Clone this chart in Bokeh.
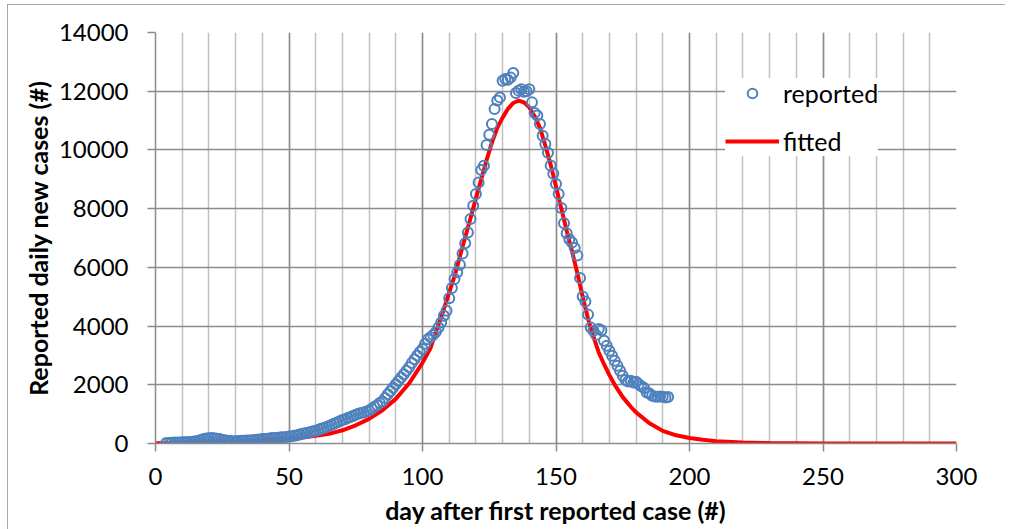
from bokeh.plotting import figure
from bokeh.models import (Range1d, SingleIntervalTicker, Legend, LegendItem)
from bokeh.embed import file_html
from bokeh.resources import INLINE

# ---------------- data ----------------
reported_day = list(range(4, 193))
reported_cases = [
    20, 20, 25, 30, 30, 35, 40, 45, 50, 55,            # 4-13
    60, 75, 90, 120, 150, 170, 180, 185, 175, 165,      # 14-23
    150, 130, 110, 95, 85, 80, 80, 85, 90, 95,          # 24-33
    100, 105, 110, 120, 130, 140, 150, 155, 165, 175,   # 34-43
    185, 190, 200, 210, 215, 225, 235, 250, 265, 285,   # 44-53
    310, 330, 350, 370, 395, 415, 435, 470, 500, 530,   # 54-63
    565, 600, 640, 680, 715, 760, 800, 830, 870, 900,   # 64-73
    940, 980, 1010, 1040, 1060, 1090, 1120, 1180, 1250, 1300,  # 74-83
    1380, 1430, 1550, 1680, 1790, 1900, 2020, 2130, 2250, 2360,  # 84-93
    2480, 2600, 2740, 2870, 3000, 3120, 3220, 3400, 3550, 3620,  # 94-103
    3700, 3800, 3950, 4120, 4350, 4520, 4950, 5300, 5600, 5830,  # 104-113
    6090, 6470, 6820, 7190, 7650, 8100, 8500, 8890, 9320, 9460,  # 114-123
    10170, 10520, 10880, 11390, 11680, 11790, 12360, 12420, 12390, 12470,  # 124-133
    12620, 11940, 12020, 12070, 11980, 12000, 12070, 11620, 11260, 11170,  # 134-143
    10880, 10480, 10200, 9900, 9470, 9190, 8840, 8500, 8020, 7500,  # 144-153
    7160, 6960, 6850, 6660, 6400, 5640, 5010, 4840, 4390, 3950,  # 154-163
    3840, 3700, 3900, 3860, 3500, 3330, 3160, 2990, 2820, 2650,  # 164-173
    2480, 2310, 2160, 2110, 2140, 2080, 2100, 2020, 1950, 1890,  # 174-183
    1740, 1700, 1630, 1600, 1590, 1600, 1590, 1570, 1580,        # 184-192
]
assert len(reported_day) == len(reported_cases)

fitted_day = [0, 10, 20, 30, 40, 50, 55, 60, 65, 70, 75, 80, 85, 90, 95, 100,
              103, 105, 107, 110, 112, 115, 118, 120, 122, 124, 126, 128, 130,
              132, 134, 136, 138, 140, 142, 144, 146, 148, 150, 152, 154, 156,
              158, 160, 162, 164, 166, 168, 170, 172, 175, 178, 180, 185, 190,
              195, 200, 205, 210, 220, 230, 250, 275, 300]
fitted_cases = [10, 20, 40, 70, 110, 170, 200, 260, 330, 450, 620, 840, 1130,
                1520, 2050, 2750, 3250, 3800, 4300, 5150, 5700, 6700, 7680,
                8350, 9000, 9650, 10250, 10750, 11100, 11400, 11600, 11680,
                11620, 11450, 11150, 10750, 10150, 9500, 8750, 8000, 7250,
                6550, 5800, 5000, 4250, 3650, 3100, 2700, 2330, 2000, 1580,
                1250, 1060, 690, 430, 280, 190, 130, 80, 35, 15, 3, 1, 0]

x_title = "day after first reported case (#)"
y_title = "Reported daily new cases (#)"

FONT = "Lato"
MAJOR = "#8c8c8c"
MINOR = "#c0c0c0"

p = figure(width=998, height=525, output_backend="svg", toolbar_location=None,
           x_range=Range1d(0, 300), y_range=Range1d(0, 14000),
           min_border_left=148, min_border_right=49, min_border_top=28,
           min_border_bottom=86)
p.outline_line_color = None
p.background_fill_color = "white"
p.border_fill_color = "white"
p.styles = {"margin-left": "7px", "margin-top": "4px",
            "outline": "1px solid #8c8c8c", "outline-offset": "-1px"}

p.xaxis.ticker = SingleIntervalTicker(interval=50, num_minor_ticks=5)
p.yaxis.ticker = SingleIntervalTicker(interval=2000, num_minor_ticks=0)

p.xgrid.grid_line_color = MAJOR
p.xgrid.grid_line_width = 1.5
p.xgrid.minor_grid_line_color = MINOR
p.xgrid.minor_grid_line_width = 1.5
p.ygrid.grid_line_color = MAJOR
p.ygrid.grid_line_width = 1.5

for ax in (p.xaxis[0], p.yaxis[0]):
    ax.axis_line_color = MAJOR
    ax.axis_line_width = 1.5
    ax.major_tick_line_color = MAJOR
    ax.major_tick_line_width = 1.5
    ax.major_tick_out = 8
    ax.major_tick_in = 0
    ax.minor_tick_line_color = None
    ax.major_label_text_font = FONT
    ax.major_label_text_font_size = "24px"
    ax.major_label_text_color = "black"
    ax.axis_label_text_font = FONT
    ax.axis_label_text_font_size = "25px"
    ax.axis_label_text_font_style = "bold"
    ax.axis_label_text_color = "black"

p.xaxis.axis_label = x_title
p.yaxis.axis_label = y_title
p.xaxis.major_label_standoff = 16
p.yaxis.major_label_standoff = 19
p.xaxis.axis_label_standoff = 7
p.yaxis.axis_label_standoff = 3

line_r = p.line(fitted_day, fitted_cases, line_color="#ff0000", line_width=4)
sc_r = p.scatter(reported_day, reported_cases, marker="circle", size=10,
                 line_color="#4f81bd", line_width=2, fill_color=None)

legend = Legend(items=[LegendItem(label="reported", renderers=[sc_r]),
                       LegendItem(label="fitted", renderers=[line_r])],
                location=(570, 287))
legend.background_fill_color = "white"
legend.background_fill_alpha = 1
legend.border_line_color = None
legend.label_text_font = FONT
legend.label_text_font_size = "25px"
legend.label_text_color = "black"
legend.glyph_width = 54
legend.glyph_height = 24
legend.label_height = 24
legend.spacing = 18
legend.padding = 10
legend.label_standoff = 4
legend.margin = 0
p.add_layout(legend, "center")

open("out.html", "w").write(file_html(p, INLINE))
